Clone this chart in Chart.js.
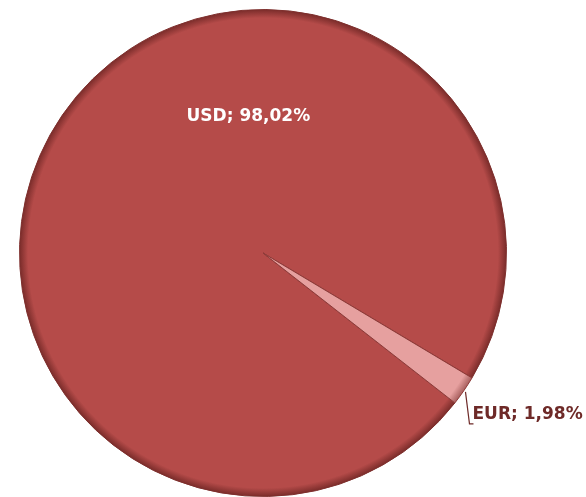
<!DOCTYPE html>
<html>
<head>
<meta charset="utf-8">
<script src="https://cdn.jsdelivr.net/npm/chart.js@4.4.1/dist/chart.umd.min.js"></script>
<style>
  html, body { margin: 0; padding: 0; background: #fff; }
  #wrap { width: 586px; height: 497px; }
</style>
</head>
<body>
<div id="wrap"><canvas id="pie"></canvas></div>
<script>
const currencies = ['USD', 'EUR'];
const shares = [98.02, 1.98];
const sliceColors = ['#b54b49', '#e6a09f'];
const rimColors = ['#7a2c2a', '#a8605f'];

const fmt = v => v.toFixed(2).replace('.', ',') + '%';

// radial shading so the rim looks bevelled like the original
const shade = (ctx) => {
  const chart = ctx.chart;
  const arc = chart.getDatasetMeta(0).data[ctx.dataIndex];
  const base = sliceColors[ctx.dataIndex];
  if (!arc || !arc.outerRadius) return base;
  const g = chart.ctx.createRadialGradient(arc.x, arc.y, 0, arc.x, arc.y, arc.outerRadius);
  g.addColorStop(0, base);
  g.addColorStop(0.965, base);
  g.addColorStop(1, rimColors[ctx.dataIndex]);
  return g;
};

const sliceLabels = {
  id: 'sliceLabels',
  afterDatasetsDraw(chart) {
    const { ctx } = chart;
    const arcs = chart.getDatasetMeta(0).data;
    ctx.save();
    ctx.font = 'bold 17px "DejaVu Sans", Verdana, sans-serif';
    ctx.textBaseline = 'middle';

    // big slice: label inside, upper part of the pie
    const a0 = arcs[0];
    ctx.fillStyle = '#ffffff';
    ctx.textAlign = 'center';
    ctx.fillText(currencies[0] + '; ' + fmt(shares[0]), a0.x - a0.outerRadius * 0.06, a0.y - a0.outerRadius * 0.56);

    // small slice: label outside with a leader line
    const a1 = arcs[1];
    const mid = (a1.startAngle + a1.endAngle) / 2;
    const sx = a1.x + Math.cos(mid) * (a1.outerRadius + 2);
    const sy = a1.y + Math.sin(mid) * (a1.outerRadius + 2);
    const ex = sx + 4;
    const ey = sy + 32;
    ctx.strokeStyle = '#6e2a28';
    ctx.lineWidth = 1.2;
    ctx.beginPath();
    ctx.moveTo(sx, sy);
    ctx.lineTo(ex, ey);
    ctx.lineTo(ex + 4, ey);
    ctx.stroke();
    ctx.fillStyle = '#6e2a28';
    ctx.textAlign = 'left';
    ctx.fillText(currencies[1] + '; ' + fmt(shares[1]), ex + 3, ey - 9);
    ctx.restore();
  }
};

const chart = new Chart(document.getElementById('pie'), {
  type: 'pie',
  data: {
    labels: currencies,
    datasets: [{
      data: shares,
      backgroundColor: shade,
      borderColor: ['#7e2f2d', '#8e3a38'],
      borderWidth: 1
    }]
  },
  options: {
    responsive: true,
    maintainAspectRatio: false,
    animation: false,
    rotation: 128,
    layout: { padding: { left: 17, right: 77, top: 9, bottom: 0 } },
    plugins: {
      legend: { display: false },
      tooltip: { enabled: false }
    }
  },
  plugins: [sliceLabels]
});
// second pass so the gradients can use the arc geometry
chart.update();
</script>
</body>
</html>
